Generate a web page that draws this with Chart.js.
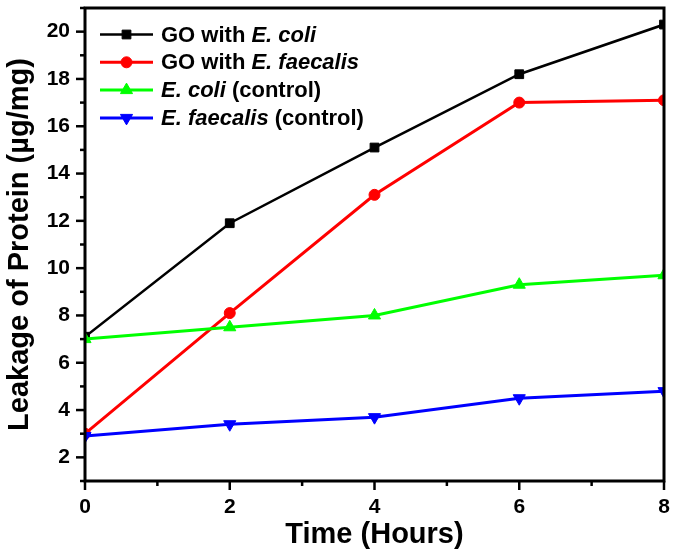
<!DOCTYPE html>
<html><head><meta charset="utf-8">
<script src="https://cdn.jsdelivr.net/npm/chart.js@4/dist/chart.umd.min.js"></script>
<style>html,body{margin:0;padding:0;background:#fff;}#wrap{width:675px;height:556px;}</style>
</head><body><div id="wrap"><canvas id="c" width="675" height="556"></canvas></div>
<script>
// ---- data ----
const timeHours = [0, 2, 4, 6, 8];
const goEcoli = [7.1, 11.9, 15.1, 18.2, 20.3];
const goEfaecalis = [3.0, 8.1, 13.1, 17.0, 17.1];
const ecoliControl = [7.0, 7.5, 8.0, 9.3, 9.7];
const efaecalisControl = [2.9, 3.4, 3.7, 4.5, 4.8];
// legend labels as [text, italic] segments
const labelGoEcoli = [["GO with ", false], ["E. coli", true]];
const labelGoEfaecalis = [["GO with ", false], ["E. faecalis", true]];
const labelEcoliControl = [["E. coli", true], [" (control)", false]];
const labelEfaecalisControl = [["E. faecalis", true], [" (control)", false]];
const xAxisTitle = "Time (Hours)";
const yAxisTitle = "Leakage of Protein (\u00b5g/mg)";
const xMin = 0, xMax = 8, yMin = 1, yMax = 21;

const FONT = "'Liberation Sans', Arial, Helvetica, sans-serif";
const toXY = arr => arr.map((v, i) => ({x: timeHours[i], y: v}));
const segText = segs => segs.map(s => s[0]).join("");

const datasets = [
  {label: segText(labelGoEcoli), segs: labelGoEcoli, data: toXY(goEcoli), borderColor: '#000000', backgroundColor: '#000000', borderWidth: 2.5, pointStyle: 'rect', pointRadius: 6.2, pointRotation: 0, order: 3},
  {label: segText(labelGoEfaecalis), segs: labelGoEfaecalis, data: toXY(goEfaecalis), borderColor: '#ff0000', backgroundColor: '#ff0000', borderWidth: 3, pointStyle: 'circle', pointRadius: 5.5, pointRotation: 0, order: 2},
  {label: segText(labelEcoliControl), segs: labelEcoliControl, data: toXY(ecoliControl), borderColor: '#00ff00', backgroundColor: '#00ff00', borderWidth: 3, pointStyle: 'triangle', pointRadius: 7, pointRotation: 0, order: 1},
  {label: segText(labelEfaecalisControl), segs: labelEfaecalisControl, data: toXY(efaecalisControl), borderColor: '#0000ff', backgroundColor: '#0000ff', borderWidth: 3, pointStyle: 'triangle', pointRadius: 7, pointRotation: 180, order: 0}
];
datasets.forEach(d => { d.pointBorderWidth = 1; d.pointBorderColor = d.borderColor; d.pointBackgroundColor = d.borderColor; d.tension = 0; d.showLine = true; });

const framePlugin = {
  id: 'frame',
  afterDraw(chart) {
    const ctx = chart.ctx, a = chart.chartArea;
    const xs = chart.scales.x, ys = chart.scales.y;
    ctx.save();
    ctx.strokeStyle = '#000';
    ctx.lineCap = 'butt';
    // ticks
    ctx.lineWidth = 2.5;
    for (let v = xMin; v <= xMax; v++) {
      const px = xs.getPixelForValue(v);
      const len = (v % 2 === 0) ? 9 : 5;
      ctx.beginPath(); ctx.moveTo(px, a.bottom); ctx.lineTo(px, a.bottom + len); ctx.stroke();
    }
    for (let v = yMin; v <= yMax; v++) {
      const py = ys.getPixelForValue(v);
      const len = (v % 2 === 0) ? 9 : 5;
      ctx.beginPath(); ctx.moveTo(a.left, py); ctx.lineTo(a.left - len, py); ctx.stroke();
    }
    // frame
    ctx.lineWidth = 3;
    ctx.strokeRect(a.left, a.top, a.right - a.left, a.bottom - a.top);
    // legend
    const lx0 = a.left + 15, lx1 = a.left + 68, tx = a.left + 76;
    chart.data.datasets.forEach((d, i) => {
      const y = a.top + 26.5 + i * 27.8;
      ctx.strokeStyle = d.borderColor; ctx.lineWidth = d.borderWidth;
      ctx.beginPath(); ctx.moveTo(lx0, y); ctx.lineTo(lx1, y); ctx.stroke();
      ctx.fillStyle = d.borderColor;
      ctx.lineWidth = 1;
      Chart.helpers.drawPoint(ctx, {pointStyle: d.pointStyle, radius: d.pointRadius, rotation: d.pointRotation, borderWidth: 1}, (lx0 + lx1) / 2, y);
      let x = tx;
      ctx.textBaseline = 'middle'; ctx.textAlign = 'left'; ctx.fillStyle = '#000';
      d.segs.forEach(s => {
        ctx.font = (s[1] ? 'italic ' : '') + 'bold 22px ' + FONT;
        ctx.fillText(s[0], x, y + 1);
        x += ctx.measureText(s[0]).width;
      });
    });
    ctx.restore();
  }
};

new Chart(document.getElementById('c'), {
  type: 'scatter',
  data: {datasets},
  options: {
    responsive: false,
    animation: false,
    devicePixelRatio: 1,
    layout: {padding: {top: 5, right: 11, left: 0, bottom: 0}},
    plugins: {legend: {display: false}, tooltip: {enabled: false}},
    scales: {
      x: {
        type: 'linear', min: xMin, max: xMax,
        grid: {display: false, drawTicks: false},
        border: {display: false},
        ticks: {stepSize: 1, autoSkip: false, maxRotation: 0, padding: 14, color: '#000',
          font: {family: FONT, weight: 'bold', size: 21},
          callback: v => (v % 2 === 0 ? String(v) : '')},
        title: {display: true, text: xAxisTitle, color: '#000', padding: {top: 0, bottom: 4},
          font: {family: FONT, weight: 'bold', size: 29}},
        afterFit: s => { s.height = 75; s.paddingLeft = 0; s.paddingRight = 0; }
      },
      y: {
        type: 'linear', min: yMin, max: yMax,
        grid: {display: false, drawTicks: false},
        border: {display: false},
        ticks: {stepSize: 1, autoSkip: false, padding: 15, color: '#000',
          font: {family: FONT, weight: 'bold', size: 21},
          callback: v => (v % 2 === 0 ? String(v) : '')},
        title: {display: true, text: yAxisTitle, color: '#000', padding: {top: 3, bottom: 0},
          font: {family: FONT, weight: 'bold', size: 29}},
        afterFit: s => { s.width = 85; s.paddingTop = 0; s.paddingBottom = 0; }
      }
    }
  },
  plugins: [framePlugin]
});
</script>
</body></html>
